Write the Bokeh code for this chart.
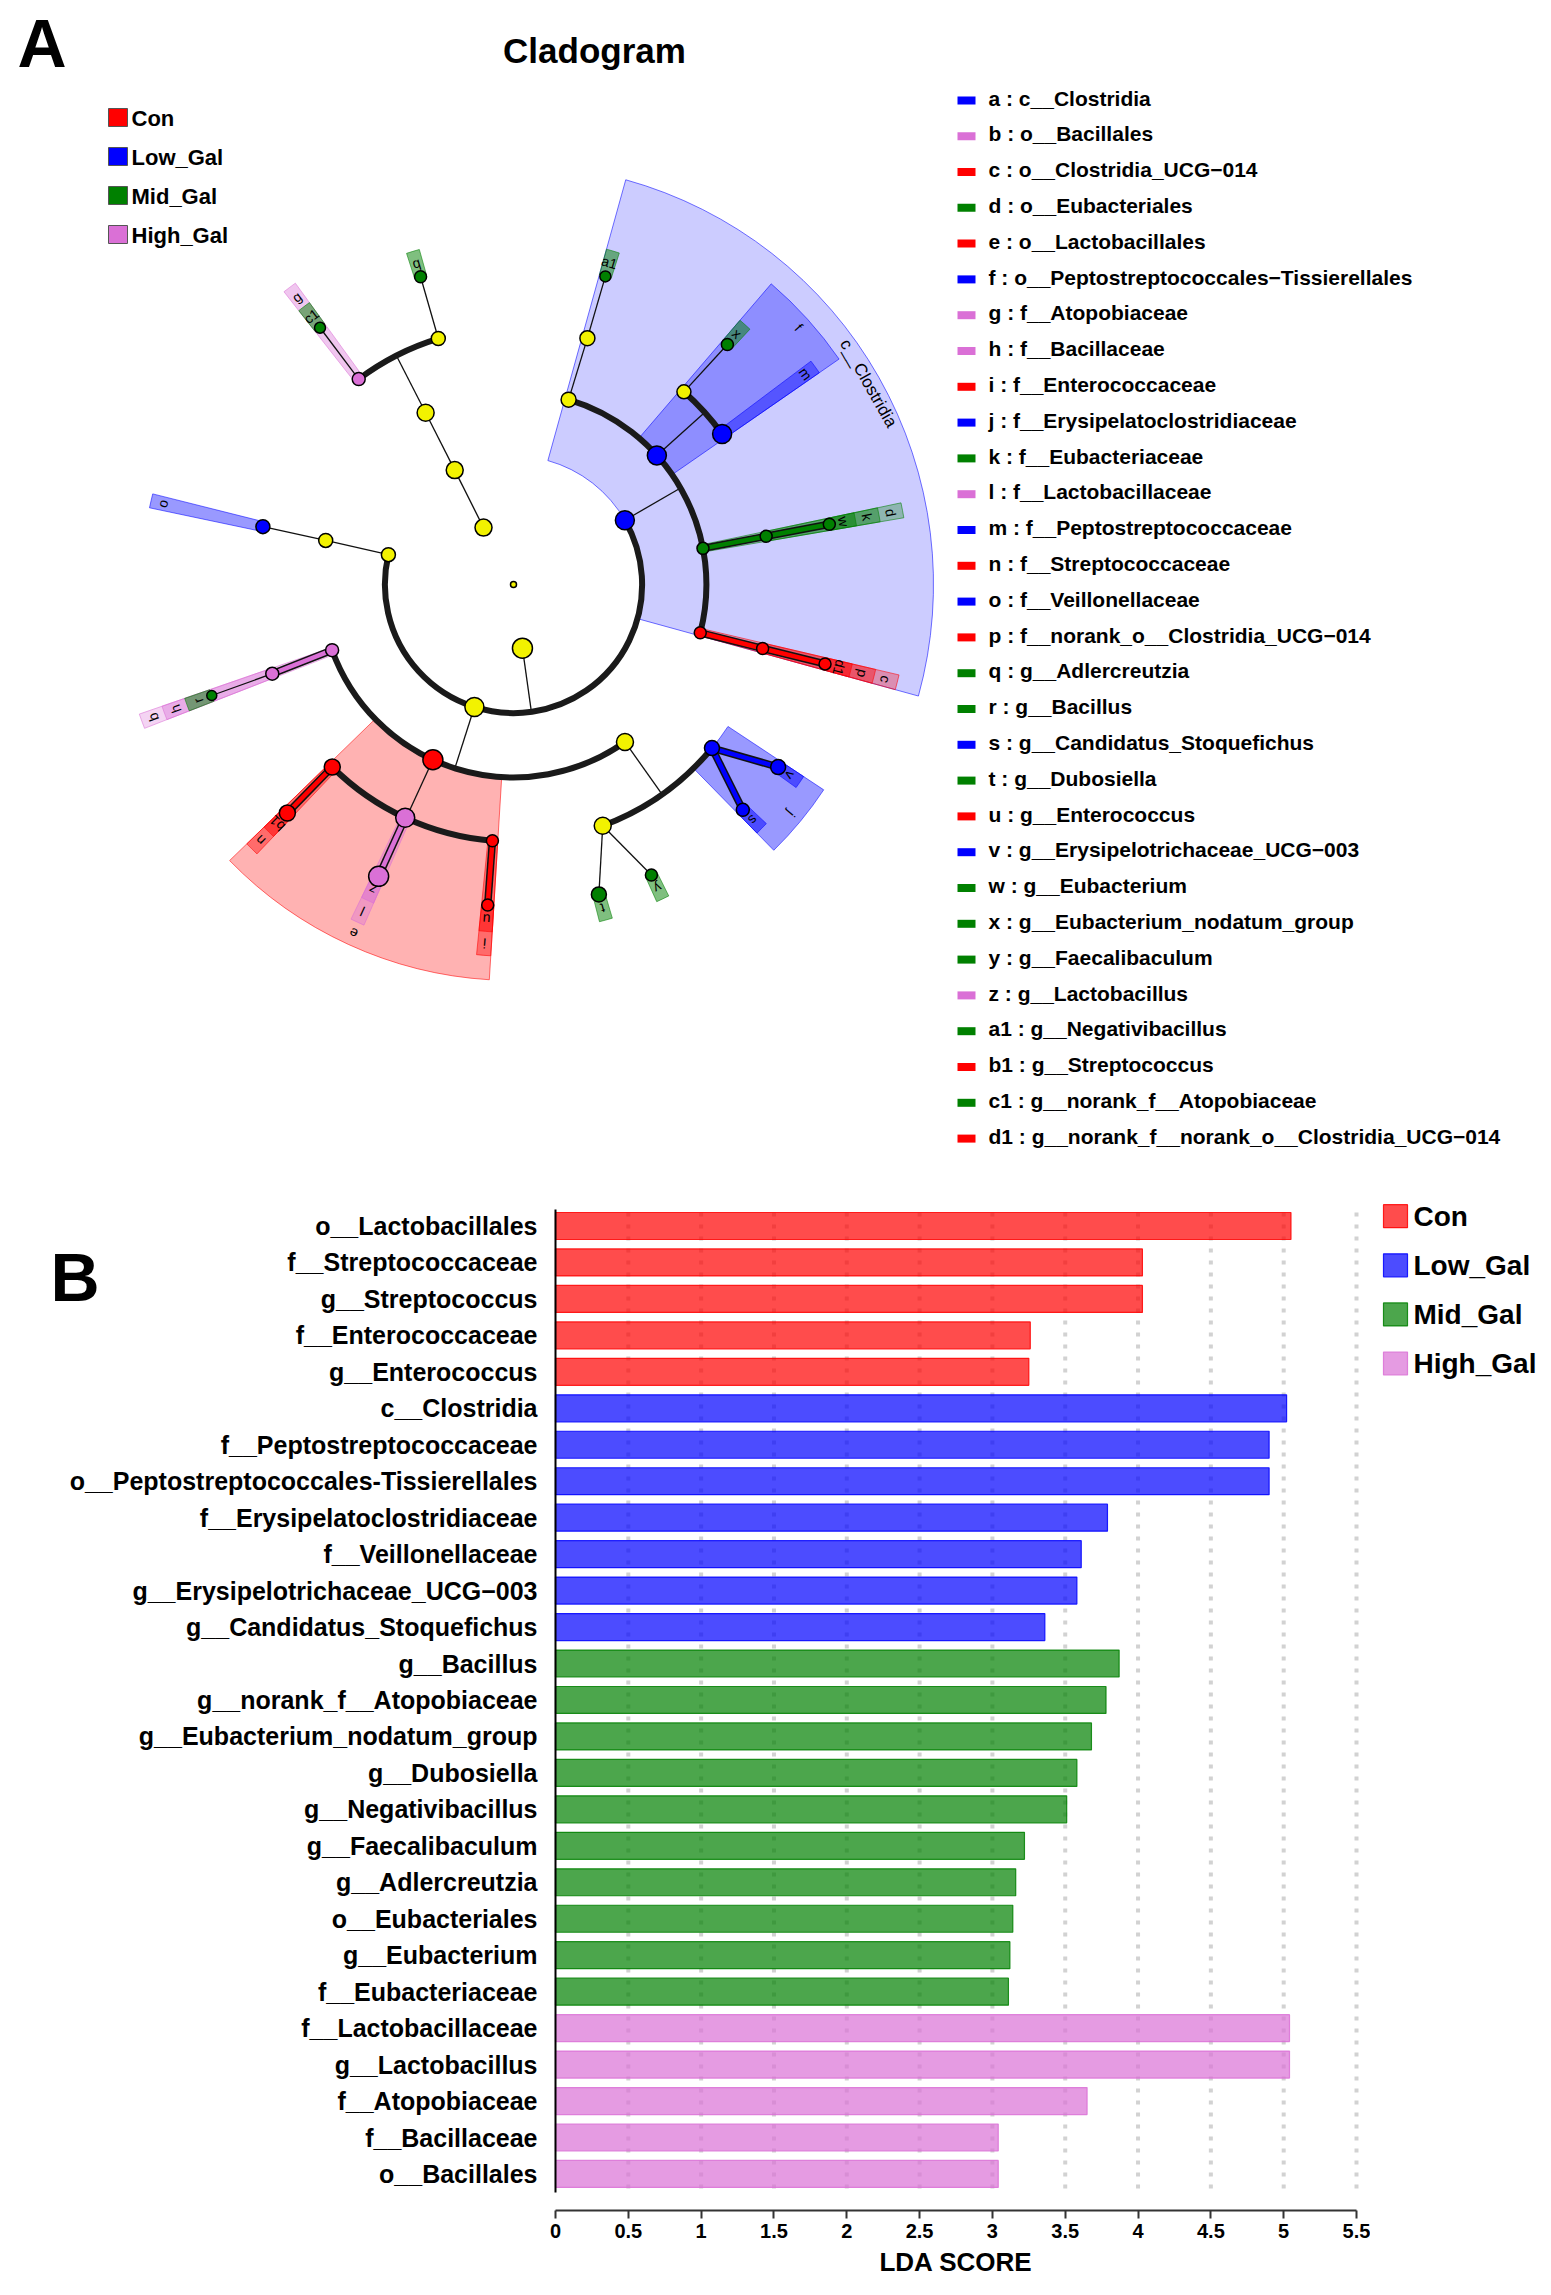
import numpy as np
from bokeh.plotting import figure
from bokeh.models import Range1d, LinearAxis, FixedTicker, CustomJSTickFormatter
from bokeh.layouts import column, row
from bokeh.core.properties import value
from bokeh.embed import file_html
from bokeh.resources import INLINE

FONT = "Liberation Sans"
FV = value(FONT)

# ------------------------------------------------------------------ data
groups = ["Con", "Low_Gal", "Mid_Gal", "High_Gal"]
group_colors = ["#FF0000", "#0000FF", "#008000", "#DA70D6"]
NODE_BG = "#F2F200"

# --- cladogram nodes (taxonomic level, angle in degrees, group, node size, parent, letter)
node_names = [
    "root", "p__Actinobacteriota", "p__Firmicutes",
    "c__Coriobacteriia", "c__Negativicutes", "c__Bacilli", "c__Clostridia",
    "o__Coriobacteriales", "o__Veillonellales-Selenomonadales", "o__Bacillales", "o__Lactobacillales",
    "o__Erysipelotrichales", "o__Oscillospirales", "o__Peptostreptococcales-Tissierellales",
    "o__Eubacteriales", "o__Clostridia_UCG-014",
    "f__Atopobiaceae", "f__Eggerthellaceae", "f__Veillonellaceae", "f__Bacillaceae",
    "f__Streptococcaceae", "f__Lactobacillaceae", "f__Enterococcaceae", "f__Erysipelotrichaceae",
    "f__Erysipelatoclostridiaceae", "f__Oscillospiraceae", "f__Anaerovoracaceae",
    "f__Peptostreptococcaceae", "f__Eubacteriaceae", "f__norank_o__Clostridia_UCG-014",
    "g__norank_f__Atopobiaceae", "g__Adlercreutzia", "g__Bacillus", "g__Streptococcus",
    "g__Lactobacillus", "g__Enterococcus", "g__Dubosiella", "g__Faecalibaculum",
    "g__Candidatus_Stoquefichus", "g__Erysipelotrichaceae_UCG-003", "g__Negativibacillus",
    "g__Eubacterium_nodatum_group", "g__Eubacterium", "g__norank_f__norank_o__Clostridia_UCG-014",
]
node_level = [0, 1, 1, 2, 2, 2, 2, 3, 3, 3, 3, 3, 3, 3, 3, 3,
              4, 4, 4, 4, 4, 4, 4, 4, 4, 4, 4, 4, 4, 4,
              5, 5, 5, 5, 5, 5, 5, 5, 5, 5, 5, 5, 5, 5]
node_angle = [0.0, 117.8, 278.0,
              117.2, 166.6, 252.3, 30.0,
              117.1, 166.8, 199.9, 245.3, 305.3, 73.4, 42.0, 10.8, 345.5,
              127.0, 107.0, 167.0, 200.3, 225.2, 245.1, 265.3, 290.3, 320.5, 73.3, 48.5, 35.8, 10.8, 345.6,
              127.0, 106.8, 200.2, 225.3, 245.2, 265.4, 285.4, 295.4, 315.5, 325.4, 73.4, 48.3, 10.8, 345.7]
node_group = ["none", "none", "none",
              "none", "none", "none", "Low_Gal",
              "none", "none", "High_Gal", "Con", "none", "none", "Low_Gal", "Mid_Gal", "Con",
              "High_Gal", "none", "Low_Gal", "High_Gal", "Con", "High_Gal", "Con", "none", "Low_Gal",
              "none", "none", "Low_Gal", "Mid_Gal", "Con",
              "Mid_Gal", "Mid_Gal", "Mid_Gal", "Con", "High_Gal", "Con", "Mid_Gal", "Mid_Gal",
              "Low_Gal", "Low_Gal", "Mid_Gal", "Mid_Gal", "Mid_Gal", "Con"]
node_size = [6, 17, 20,
             17, 14, 19, 19,
             17, 14, 13, 20, 17, 15, 19, 12, 12,
             13, 14, 14, 13, 16, 19, 12, 17, 15, 15, 14, 19, 12, 12,
             11, 12, 10, 16, 20, 12, 15, 12, 13, 15, 11, 12, 12, 12]
node_parent = [-1, 0, 0,
               1, 2, 2, 2,
               3, 4, 5, 5, 5, 6, 6, 6, 6,
               7, 7, 8, 9, 10, 10, 10, 11, 11, 12, 13, 13, 14, 15,
               16, 17, 19, 20, 21, 22, 23, 23, 24, 24, 25, 26, 28, 29]
node_letter = ["", "", "",
               "", "", "", "c__Clostridia",
               "", "", "b", "e", "", "", "f", "d", "c",
               "g", "", "o", "h", "n", "l", "i", "", "j", "", "", "m", "k", "p",
               "c1", "q", "r", "b1", "z", "u", "t", "y", "s", "v", "a1", "x", "w", "d1"]

# --- letter key of the cladogram
letters = ["a", "b", "c", "d", "e", "f", "g", "h", "i", "j", "k", "l", "m", "n", "o",
           "p", "q", "r", "s", "t", "u", "v", "w", "x", "y", "z", "a1", "b1", "c1", "d1"]
letter_names = ["c__Clostridia", "o__Bacillales", "o__Clostridia_UCG\u2212014", "o__Eubacteriales",
                "o__Lactobacillales", "o__Peptostreptococcales\u2212Tissierellales", "f__Atopobiaceae",
                "f__Bacillaceae", "f__Enterococcaceae", "f__Erysipelatoclostridiaceae", "f__Eubacteriaceae",
                "f__Lactobacillaceae", "f__Peptostreptococcaceae", "f__Streptococcaceae", "f__Veillonellaceae",
                "f__norank_o__Clostridia_UCG\u2212014", "g__Adlercreutzia", "g__Bacillus",
                "g__Candidatus_Stoquefichus", "g__Dubosiella", "g__Enterococcus",
                "g__Erysipelotrichaceae_UCG\u2212003", "g__Eubacterium", "g__Eubacterium_nodatum_group",
                "g__Faecalibaculum", "g__Lactobacillus", "g__Negativibacillus", "g__Streptococcus",
                "g__norank_f__Atopobiaceae", "g__norank_f__norank_o__Clostridia_UCG\u2212014"]
letter_groups = ["Low_Gal", "High_Gal", "Con", "Mid_Gal", "Con", "Low_Gal", "High_Gal", "High_Gal",
                 "Con", "Low_Gal", "Mid_Gal", "High_Gal", "Low_Gal", "Con", "Low_Gal", "Con",
                 "Mid_Gal", "Mid_Gal", "Low_Gal", "Mid_Gal", "Con", "Low_Gal", "Mid_Gal", "Mid_Gal",
                 "Mid_Gal", "High_Gal", "Mid_Gal", "Con", "Mid_Gal", "Con"]

# --- LDA bar chart
features = ["o__Lactobacillales", "f__Streptococcaceae", "g__Streptococcus", "f__Enterococcaceae",
            "g__Enterococcus", "c__Clostridia", "f__Peptostreptococcaceae",
            "o__Peptostreptococcales-Tissierellales", "f__Erysipelatoclostridiaceae", "f__Veillonellaceae",
            "g__Erysipelotrichaceae_UCG\u2212003", "g__Candidatus_Stoquefichus", "g__Bacillus",
            "g__norank_f__Atopobiaceae", "g__Eubacterium_nodatum_group", "g__Dubosiella",
            "g__Negativibacillus", "g__Faecalibaculum", "g__Adlercreutzia", "o__Eubacteriales",
            "g__Eubacterium", "f__Eubacteriaceae", "f__Lactobacillaceae", "g__Lactobacillus",
            "f__Atopobiaceae", "f__Bacillaceae", "o__Bacillales"]
lda_score = [5.05, 4.03, 4.03, 3.26, 3.25, 5.02, 4.90, 4.90, 3.79, 3.61, 3.58, 3.36, 3.87, 3.78,
             3.68, 3.58, 3.51, 3.22, 3.16, 3.14, 3.12, 3.11, 5.04, 5.04, 3.65, 3.04, 3.04]
feature_group = ["Con"] * 5 + ["Low_Gal"] * 7 + ["Mid_Gal"] * 10 + ["High_Gal"] * 5
x_ticks = [0, 0.5, 1, 1.5, 2, 2.5, 3, 3.5, 4, 4.5, 5, 5.5]

# ------------------------------------------------------------------ helpers
color_of = dict(zip(groups, group_colors))
color_of["none"] = NODE_BG
n = len(node_names)
R_LEVEL = [0.0, 64.3, 128.6, 192.9, 257.2, 321.5]
OUTER = {2: 420.0, 3: 396.0, 4: 372.0, 5: 348.0}
ALPHA = {2: 0.2, 3: 0.3, 4: 0.4, 5: 0.5}
PAD = 1.1

children = {i: [] for i in range(n)}
for i, par in enumerate(node_parent):
    if par >= 0:
        children[par].append(i)


def leaves(i):
    if not children[i]:
        return [i]
    out = []
    for c in children[i]:
        out += leaves(c)
    return out


def rel(a, b):
    return (a - b + 180.0) % 360.0 - 180.0


def polar(r, deg):
    t = np.deg2rad(deg)
    return r * np.cos(t), r * np.sin(t)


nr = np.array([R_LEVEL[l] for l in node_level])
nx, ny = polar(nr, np.array(node_angle))

# ------------------------------------------------------------------ panel A
PAGE_W = 1551
HA = 1178
CX, CY = 513, 584          # cladogram centre inside the figure (px)
pA = figure(width=PAGE_W, height=HA, x_range=Range1d(-CX, PAGE_W - CX), y_range=Range1d(-(HA - CY), CY),
            toolbar_location=None, output_backend="svg", x_axis_type=None, y_axis_type=None,
            min_border=0, outline_line_color=None)
pA.grid.visible = False


def A(px, py):  # page pixel -> data coords of panel A
    return px - CX, CY - py


# shaded clades
w_x, w_y, w_in, w_out, w_s, w_e, w_c, w_a = [], [], [], [], [], [], [], []
lab_x, lab_y, lab_t, lab_ang, lab_sz = [], [], [], [], []
order = sorted([i for i in range(n) if node_group[i] != "none"], key=lambda k: node_level[k])
for i in order:
    L = node_level[i]
    rels = [rel(node_angle[k], node_angle[i]) for k in leaves(i)]
    s = node_angle[i] + min(rels) - PAD
    e = node_angle[i] + max(rels) + PAD
    w_x.append(0.0); w_y.append(0.0)
    w_in.append(R_LEVEL[L]); w_out.append(OUTER[L])
    w_s.append(np.deg2rad(s)); w_e.append(np.deg2rad(e))
    w_c.append(color_of[node_group[i]]); w_a.append(ALPHA[L])
    mid = 0.5 * (s + e)
    lx, ly = polar(OUTER[L] - 12.0, mid)
    lab_x.append(lx); lab_y.append(ly); lab_t.append(node_letter[i])
    lab_ang.append(np.deg2rad(mid - 90.0))
    lab_sz.append("17px" if len(node_letter[i]) > 3 else "14px")

pA.annular_wedge(x=w_x, y=w_y, inner_radius=w_in, outer_radius=w_out, start_angle=w_s, end_angle=w_e,
                 fill_color=w_c, fill_alpha=w_a, line_color=w_c, line_alpha=0.55, line_width=1)

# edges
thin_x0, thin_y0, thin_x1, thin_y1 = [], [], [], []
col_x0, col_y0, col_x1, col_y1, col_c = [], [], [], [], []
arc_r, arc_s, arc_e = [], [], []
for p in range(n):
    ch = children[p]
    if node_level[p] == 0 or not ch:
        continue
    if len(ch) == 1 or node_level[ch[0]] == 5:
        for c in ch:
            if node_group[p] != "none" and node_group[p] == node_group[c]:
                col_x0.append(nx[p]); col_y0.append(ny[p]); col_x1.append(nx[c]); col_y1.append(ny[c])
                col_c.append(color_of[node_group[c]])
            else:
                thin_x0.append(nx[p]); thin_y0.append(ny[p]); thin_x1.append(nx[c]); thin_y1.append(ny[c])
    else:
        rc = R_LEVEL[node_level[ch[0]]]
        rels = [rel(node_angle[c], node_angle[p]) for c in ch]
        arc_r.append(rc)
        arc_s.append(np.deg2rad(node_angle[p] + min(rels)))
        arc_e.append(np.deg2rad(node_angle[p] + max(rels)))
        ex, ey = polar(rc, node_angle[p])
        thin_x0.append(nx[p]); thin_y0.append(ny[p]); thin_x1.append(ex); thin_y1.append(ey)

pA.segment(x0=thin_x0, y0=thin_y0, x1=thin_x1, y1=thin_y1, line_color="#111111", line_width=1.3)
pA.arc(x=[0.0] * len(arc_r), y=[0.0] * len(arc_r), radius=arc_r, start_angle=arc_s, end_angle=arc_e,
       line_color="#1a1a1a", line_width=6)
pA.segment(x0=col_x0, y0=col_y0, x1=col_x1, y1=col_y1, line_color="#111111", line_width=7.5)
pA.segment(x0=col_x0, y0=col_y0, x1=col_x1, y1=col_y1, line_color=col_c, line_width=4.5)

pA.text(x=lab_x, y=lab_y, text=lab_t, angle=lab_ang, text_font=FV, text_font_size=lab_sz,
        text_align="center", text_baseline="middle", text_color="black")

pA.scatter(x=nx, y=ny, size=node_size, marker="circle",
           fill_color=[color_of[g] for g in node_group], line_color="black", line_width=1.5)

# titles (positions are centres of the capital letters)
ax_, ay_ = A(17, 42.5)
pA.text(x=[ax_], y=[ay_], text=["A"], text_font=FV, text_font_style="bold", text_font_size="68px",
        text_align="left", text_baseline="middle")
tx_, ty_ = A(594, 49.5)
pA.text(x=[tx_], y=[ty_], text=["Cladogram"], text_font=FV, text_font_style="bold", text_font_size="35px",
        text_align="center", text_baseline="middle")

# group legend (top-left)
gl_y = [A(0, 117 + 39 * k)[1] for k in range(len(groups))]
gx, _ = A(117.5, 0)
pA.rect(x=[gx] * len(groups), y=gl_y, width=19, height=18, fill_color=group_colors,
        line_color="#555555", line_width=1)
gtx, _ = A(131, 0)
pA.text(x=[gtx] * len(groups), y=[v - 1 for v in gl_y], text=groups, text_font=FV, text_font_style="bold",
        text_font_size="22px", text_align="left", text_baseline="middle")

# letter key (right)
ly_ = [A(0, 99.9 + 35.8 * k)[1] for k in range(len(letters))]
lrx, _ = A(966, 0)
pA.rect(x=[lrx] * len(letters), y=ly_, width=18, height=8,
        fill_color=[color_of[g] for g in letter_groups], line_color=None)
ltx, _ = A(988, 0)
pA.text(x=[ltx] * len(letters), y=[v + 2.3 for v in ly_],
        text=[f"{a} : {b}" for a, b in zip(letters, letter_names)], text_font=FV, text_font_style="bold",
        text_font_size="21px", text_align="left", text_baseline="middle")

# ------------------------------------------------------------------ panel B (three side-by-side figures)
HB = 1110
TOP_B = HA                       # page y of the figures' top
PPX = 801.0 / 5.5                # px per LDA unit
PPY = 36.46                      # px per bar row
X0_PAGE = 555                    # page x of LDA = 0
MAIN_L, MAIN_R = 541, 1370       # page x span of the bar plot frame (centred on the axis)
NB = len(features)
yv = [NB - 1 - i for i in range(NB)]
y_top = (NB - 1) + (1225.5 - TOP_B) / PPY
FRAME_H = 2210 - TOP_B
y_bot = y_top - FRAME_H / PPY


def BX(px):
    return (px - X0_PAGE) / PPX


def BY(py):
    return y_top - (py - TOP_B) / PPY


yr = Range1d(y_bot, y_top)
common = dict(height=HB, y_range=yr, toolbar_location=None, output_backend="svg",
              x_axis_type=None, y_axis_type=None, min_border_left=0, min_border_right=0,
              min_border_top=0, min_border_bottom=HB - FRAME_H, outline_line_color=None)
pL = figure(width=MAIN_L, x_range=Range1d(0, MAIN_L), **common)
pM = figure(width=MAIN_R - MAIN_L, x_range=Range1d(BX(MAIN_L), BX(MAIN_R)), **common)
pR = figure(width=PAGE_W - MAIN_R, x_range=Range1d(MAIN_R, PAGE_W), **common)

# dotted grid lines
gticks = [t for t in x_ticks if t > 0]
pM.segment(x0=gticks, x1=gticks, y0=[BY(1212)] * len(gticks), y1=[BY(2193)] * len(gticks),
           line_color="#d2d2d2", line_width=4, line_dash="4 8")

bar_cols = [color_of[g] for g in feature_group]
pM.hbar(y=yv, left=0, right=lda_score, height=0.74, fill_color=bar_cols, fill_alpha=0.7,
        line_color=bar_cols, line_alpha=0.85, line_width=1.2)

# y axis line
pM.segment(x0=[0], x1=[0], y0=[BY(1209)], y1=[BY(2192)], line_color="black", line_width=2)

# x axis
xaxis = LinearAxis(bounds=(x_ticks[0], x_ticks[-1]), ticker=FixedTicker(ticks=x_ticks),
                   formatter=CustomJSTickFormatter(code="return tick.toString()"),
                   axis_label="LDA SCORE")
xaxis.axis_line_width = 2
xaxis.axis_line_color = "#333333"
xaxis.major_tick_line_width = 2
xaxis.major_tick_line_color = "#333333"
xaxis.major_tick_out = 8
xaxis.major_tick_in = 0
xaxis.minor_tick_line_color = None
xaxis.major_label_standoff = 5
xaxis.major_label_text_font = FONT
xaxis.major_label_text_font_style = "bold"
xaxis.major_label_text_font_size = "20px"
xaxis.major_label_text_color = "black"
xaxis.axis_label_text_font = FONT
xaxis.axis_label_text_font_style = "bold"
xaxis.axis_label_text_font_size = "26px"
xaxis.axis_label_text_color = "black"
xaxis.axis_label_standoff = 6
pM.add_layout(xaxis, "below")

# category labels + panel letter (left figure, page-pixel x units)
pL.text(x=[537] * NB, y=yv, text=features, text_font=FV, text_font_style="bold",
        text_font_size="25px", text_align="right", text_baseline="middle")
pL.text(x=[50], y=[BY(1276)], text=["B"], text_font=FV, text_font_style="bold", text_font_size="68px",
        text_align="left", text_baseline="middle")

# legend (right figure, page-pixel x units)
leg_y = [BY(1215.7 + 49.1 * k) for k in range(len(groups))]
pR.rect(x=[1395] * len(groups), y=leg_y, width=24, height=23 / PPY, fill_color=group_colors,
        fill_alpha=0.7, line_color=group_colors, line_alpha=0.85, line_width=1.2)
pR.text(x=[1413] * len(groups), y=leg_y, text=groups, text_font=FV, text_font_style="bold",
        text_font_size="28px", text_align="left", text_baseline="middle")

layout = column(pA, row(pL, pM, pR))
open("out.html", "w").write(file_html(layout, INLINE))
